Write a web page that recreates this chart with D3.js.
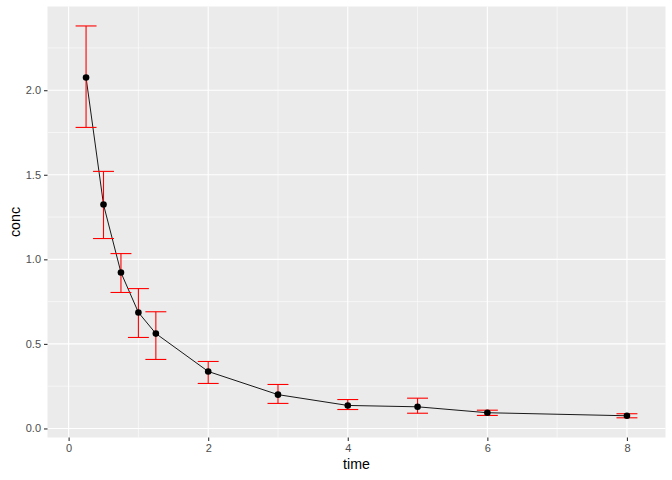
<!DOCTYPE html>
<html>
<head>
<meta charset="utf-8">
<script src="https://cdn.jsdelivr.net/npm/d3@7"></script>
<style>
  body { margin: 0; background: #fff; }
  svg { display: block; font-family: "Liberation Sans", Arial, sans-serif; }
</style>
</head>
<body>
<svg width="672" height="480"></svg>
<script>
// concentration vs time, mean with error bars
const time = [0.25, 0.5, 0.75, 1, 1.25, 2, 3, 4, 5, 6, 8];
const conc = [2.075, 1.324, 0.922, 0.686, 0.561, 0.337, 0.2, 0.136, 0.128, 0.093, 0.075];
const concLow = [1.78, 1.123, 0.804, 0.538, 0.408, 0.266, 0.148, 0.112, 0.09, 0.077, 0.063];
const concHigh = [2.38, 1.52, 1.034, 0.827, 0.69, 0.396, 0.26, 0.171, 0.179, 0.108, 0.087];
const xTicks = [0, 2, 4, 6, 8];
const xMinor = [1, 3, 5, 7];
const yTicks = [0, 0.5, 1, 1.5, 2];
const yMinor = [0.25, 0.75, 1.25, 1.75, 2.25];

const data = time.map((t, i) => ({ time: t, conc: conc[i], lo: concLow[i], hi: concHigh[i] }));

const svg = d3.select("svg");
const panel = { left: 47.5, right: 665.5, top: 6.5, bottom: 437.5 };

const x = d3.scaleLinear().domain([-0.3025, 8.5525]).range([panel.left, panel.right]);
const y = d3.scaleLinear().domain([-0.0535, 2.495]).range([panel.bottom, panel.top]);

svg.append("rect")
  .attr("x", panel.left).attr("y", panel.top)
  .attr("width", panel.right - panel.left).attr("height", panel.bottom - panel.top)
  .attr("fill", "#EBEBEB");

const grid = svg.append("g");
grid.selectAll(".xminor").data(xMinor).enter().append("line")
  .attr("x1", d => x(d)).attr("x2", d => x(d))
  .attr("y1", panel.top).attr("y2", panel.bottom)
  .attr("stroke", "#fff").attr("stroke-width", 0.55);
grid.selectAll(".yminor").data(yMinor).enter().append("line")
  .attr("y1", d => y(d)).attr("y2", d => y(d))
  .attr("x1", panel.left).attr("x2", panel.right)
  .attr("stroke", "#fff").attr("stroke-width", 0.55);
grid.selectAll(".xmajor").data(xTicks).enter().append("line")
  .attr("x1", d => x(d)).attr("x2", d => x(d))
  .attr("y1", panel.top).attr("y2", panel.bottom)
  .attr("stroke", "#fff").attr("stroke-width", 1.1);
grid.selectAll(".ymajor").data(yTicks).enter().append("line")
  .attr("y1", d => y(d)).attr("y2", d => y(d))
  .attr("x1", panel.left).attr("x2", panel.right)
  .attr("stroke", "#fff").attr("stroke-width", 1.1);

// axes
const xAxis = svg.append("g")
  .attr("transform", `translate(0,${panel.bottom})`)
  .call(d3.axisBottom(x).tickValues(xTicks).tickSize(3.5).tickPadding(3).tickFormat(d3.format("d")));
const yAxis = svg.append("g")
  .attr("transform", `translate(${panel.left},0)`)
  .call(d3.axisLeft(y).tickValues(yTicks).tickSize(3.5).tickPadding(3).tickFormat(d3.format(".1f")));
[xAxis, yAxis].forEach(a => {
  a.select(".domain").remove();
  a.selectAll(".tick line").attr("stroke", "#333").attr("stroke-width", 1.1);
  a.selectAll(".tick text").attr("fill", "#4D4D4D").style("font-size", "11px")
    .style("font-family", "'Liberation Sans', Arial, sans-serif");
});

// line first, then error bars, points on top
svg.append("path")
  .datum(data)
  .attr("fill", "none").attr("stroke", "#000").attr("stroke-width", 0.9)
  .attr("d", d3.line().x(d => x(d.time)).y(d => y(d.conc)));

const half = 0.15;
const eb = svg.append("g").attr("stroke", "#FF0000").attr("stroke-width", 1.1).attr("fill", "none");
eb.selectAll(".v").data(data).enter().append("line")
  .attr("x1", d => x(d.time)).attr("x2", d => x(d.time))
  .attr("y1", d => y(d.lo)).attr("y2", d => y(d.hi));
eb.selectAll(".top").data(data).enter().append("line")
  .attr("x1", d => x(d.time - half)).attr("x2", d => x(d.time + half))
  .attr("y1", d => y(d.hi)).attr("y2", d => y(d.hi));
eb.selectAll(".bot").data(data).enter().append("line")
  .attr("x1", d => x(d.time - half)).attr("x2", d => x(d.time + half))
  .attr("y1", d => y(d.lo)).attr("y2", d => y(d.lo));

svg.selectAll(".pt").data(data).enter().append("circle")
  .attr("cx", d => x(d.time)).attr("cy", d => y(d.conc))
  .attr("r", 3.3).attr("fill", "#000");

// axis titles
svg.append("text")
  .attr("x", (panel.left + panel.right) / 2).attr("y", 469)
  .attr("text-anchor", "middle").style("font-size", "14.2px").attr("fill", "#000")
  .text("time");
svg.append("text")
  .attr("transform", `translate(19.5,${(panel.top + panel.bottom) / 2}) rotate(-90)`)
  .attr("text-anchor", "middle").style("font-size", "14.2px").attr("fill", "#000")
  .text("conc");
</script>
</body>
</html>
